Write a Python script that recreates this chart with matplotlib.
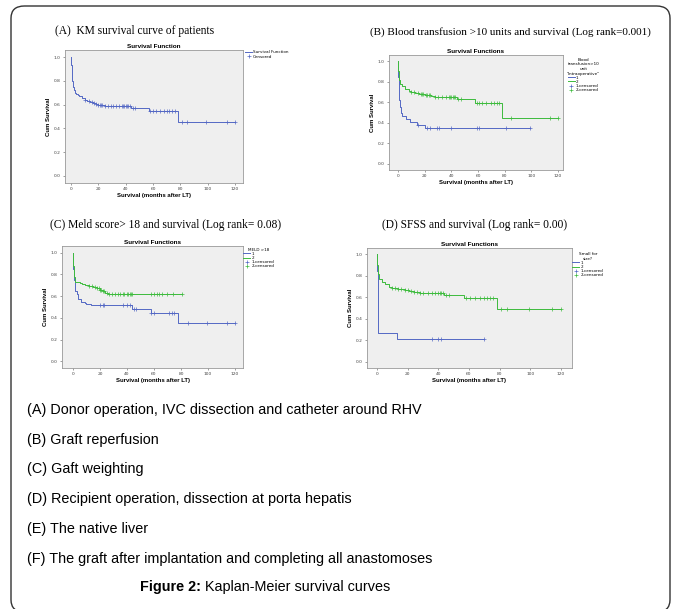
import numpy as np
import matplotlib
matplotlib.use("Agg")
import matplotlib.pyplot as plt
from matplotlib.patches import FancyBboxPatch

BLUE = "#5468c4"
GREEN = "#3dbb3d"

# (A) all patients
a_t = [0, 0.3, 0.6, 1, 1.5, 2, 3, 4, 5, 6, 8, 10, 12, 14, 16, 18, 20, 22, 25, 44, 57, 78]
a_s = [1.0, 0.93, 0.86, 0.80, 0.75, 0.72, 0.70, 0.69, 0.68, 0.67, 0.655, 0.64, 0.632,
       0.625, 0.615, 0.607, 0.60, 0.593, 0.588, 0.572, 0.546, 0.453]
a_end = 120
a_cens = [10, 13, 15, 17, 18, 20, 21, 22, 23, 25, 27, 29, 31, 33, 35, 37, 38, 39, 40, 41,
          42, 43, 45, 47, 58, 60, 62, 65, 68, 70, 72, 74, 76, 81, 85, 99, 114, 120]

# (B) blood transfusion >10 units
b1_t = [0, 0.3, 0.6, 1, 1.5, 2, 3, 6, 9, 14, 20]
b1_s = [1.0, 0.85, 0.72, 0.62, 0.55, 0.50, 0.47, 0.44, 0.41, 0.38, 0.352]
b1_end = 99
b1_cens = [15, 22, 24, 29, 31, 40, 59, 61, 81, 99]
b2_t = [0, 0.3, 0.7, 1.5, 3, 5, 8, 10, 13, 16, 20, 25, 28, 44, 58, 78]
b2_s = [1.0, 0.90, 0.82, 0.78, 0.76, 0.73, 0.71, 0.70, 0.69, 0.68, 0.67, 0.66, 0.652,
        0.63, 0.597, 0.447]
b2_end = 120
b2_cens = [10, 12, 15, 17, 18, 19, 21, 22, 23, 24, 28, 30, 33, 36, 38, 39, 40, 41, 42, 43,
           45, 47, 59, 61, 63, 66, 70, 72, 74, 76, 85, 114, 120]

# (C) MELD >18
c1_t = [0, 0.3, 0.7, 1.5, 3, 4, 6, 9, 10, 13, 44, 58, 78]
c1_s = [1.0, 0.85, 0.75, 0.65, 0.62, 0.575, 0.55, 0.54, 0.53, 0.515, 0.485, 0.445, 0.355]
c1_end = 120
c1_cens = [20, 22, 23, 37, 40, 42, 45, 47, 58, 60, 71, 73, 75, 85, 99, 114, 120]
c2_t = [0, 0.3, 0.7, 1.5, 5, 7, 9, 12, 15, 18, 20, 22, 24, 26]
c2_s = [1.0, 0.88, 0.78, 0.73, 0.72, 0.71, 0.70, 0.69, 0.68, 0.67, 0.66, 0.645, 0.63, 0.617]
c2_end = 81
c2_cens = [12, 14, 16, 18, 19, 20, 21, 22, 23, 25, 27, 29, 31, 33, 35, 37, 38, 40, 41, 42,
           43, 44, 58, 60, 62, 64, 66, 70, 74, 81]

# (D) small for size
d1_t = [0, 0.3, 0.6, 1, 13]
d1_s = [1.0, 0.85, 0.55, 0.267, 0.21]
d1_end = 70
d1_cens = [36, 40, 42, 70]
d2_t = [0, 0.3, 0.7, 1.5, 3, 5, 8, 10, 14, 18, 21, 24, 28, 44, 47, 57, 78]
d2_s = [1.0, 0.90, 0.82, 0.77, 0.74, 0.72, 0.70, 0.69, 0.68, 0.67, 0.66, 0.65, 0.638,
        0.625, 0.62, 0.59, 0.487]
d2_end = 120
d2_cens = [10, 12, 14, 16, 18, 20, 22, 24, 26, 28, 30, 33, 36, 38, 40, 41, 42, 43, 45, 47,
           58, 61, 64, 67, 70, 72, 74, 76, 81, 85, 99, 114, 120]

panel_titles = [
    "(A)  KM survival curve of patients",
    "(B) Blood transfusion >10 units and survival (Log rank=0.001)",
    "(C) Meld score> 18 and survival (Log rank= 0.08)",
    "(D) SFSS and survival (Log rank= 0.00)",
]
caption_lines = [
    "(A) Donor operation, IVC dissection and catheter around RHV",
    "(B) Graft reperfusion",
    "(C) Gaft weighting",
    "(D) Recipient operation, dissection at porta hepatis",
    "(E) The native liver",
    "(F) The graft after implantation and completing all anastomoses",
]

W, H = 675, 609
SANS = ["Liberation Sans", "DejaVu Sans"]
SERIF = ["Liberation Serif", "DejaVu Serif"]


def fig_rect(x0, y0, x1, y1):
    # pixel box (top-left origin) -> figure fraction
    return [x0 / W, 1 - y1 / H, (x1 - x0) / W, (y1 - y0) / H]


def km_curve(ax, t, s, end, cens, color):
    tt = list(t) + [end]
    ss = list(s) + [s[-1]]
    line, = ax.step(tt, ss, where="post", color=color, lw=0.7)
    idx = np.searchsorted(np.array(t), np.array(cens), side="right") - 1
    marks, = ax.plot(cens, np.array(s)[idx], ls="none", marker="+", ms=2.5, mew=0.5,
                     color=color)
    return line, marks


def style_axes(ax, title, xlim):
    ax.set_facecolor("#efefef")
    ax.set_xlim(*xlim)
    ax.set_ylim(-0.06, 1.06)
    ax.set_xticks(range(0, 121, 20))
    yt = np.arange(0, 1.01, 0.2)
    ax.set_yticks(yt)
    ax.set_yticklabels([f"{v:.1f}" for v in yt])
    ax.tick_params(labelsize=3.2, length=1.5, width=0.4, pad=1.5, colors="#555555",
                   labelcolor="#444444")
    for sp in ax.spines.values():
        sp.set_color("#999999")
        sp.set_linewidth(0.6)
    ax.set_title(title, fontsize=4.6, fontweight="bold", pad=1.5, family=SANS)
    ax.set_xlabel("Survival (months after LT)", fontsize=4.3, fontweight="bold",
                  labelpad=1.5, family=SANS)
    ax.set_ylabel("Cum Survival", fontsize=4.3, fontweight="bold", labelpad=2, family=SANS)


def add_legend(ax, handles, labels, title, anchor):
    leg = ax.legend(handles, labels, loc="upper left", bbox_to_anchor=anchor,
                    frameon=False, fontsize=3.0, title=title, title_fontsize=3.0,
                    handlelength=1.6, handletextpad=0.3, labelspacing=0.05,
                    borderpad=0.1, borderaxespad=0)
    if title:
        leg.get_title().set_multialignment("center")
    return leg


def two_groups(ax, g1, g2, title, xlim, leg_title, anchor):
    l1, m1 = km_curve(ax, *g1, BLUE)
    l2, m2 = km_curve(ax, *g2, GREEN)
    style_axes(ax, title, xlim)
    add_legend(ax, [l1, l2, m1, m2], ["1", "2", "1-censored", "2-censored"],
               leg_title, anchor)


def main():
    fig = plt.figure(figsize=(W / 100, H / 100), dpi=100)

    # outer frame
    frame = FancyBboxPatch((11 / W, 1 - 612 / H), 659 / W, 606 / H,
                           boxstyle="round,pad=0,rounding_size=0.02",
                           transform=fig.transFigure, fill=False,
                           edgecolor="#333333", lw=1.0, clip_on=False)
    fig.add_artist(frame)

    # panel A
    ax = fig.add_axes(fig_rect(65, 50, 243, 183))
    line, marks = km_curve(ax, a_t, a_s, a_end, a_cens, BLUE)
    style_axes(ax, "Survival Function", (-4.4, 125.8))
    add_legend(ax, [line, marks], ["Survival Function", "Censored"], None, (1.01, 1.0))

    # panel B
    ax = fig.add_axes(fig_rect(389, 55, 563, 170))
    two_groups(ax, (b1_t, b1_s, b1_end, b1_cens), (b2_t, b2_s, b2_end, b2_cens),
               "Survival Functions", (-6.7, 123.7),
               "Blood\ntransfusion>10\nunit\n\"intraoperative\"", (1.02, 0.98))

    # panel C
    ax = fig.add_axes(fig_rect(62, 246, 243, 368))
    two_groups(ax, (c1_t, c1_s, c1_end, c1_cens), (c2_t, c2_s, c2_end, c2_cens),
               "Survival Functions", (-8.1, 125.9), "MELD >18", (1.0, 0.99))

    # panel D
    ax = fig.add_axes(fig_rect(367, 248, 572, 368))
    two_groups(ax, (d1_t, d1_s, d1_end, d1_cens), (d2_t, d2_s, d2_end, d2_cens),
               "Survival Functions", (-6.5, 127.2), "Small for\nsize?", (1.0, 0.97))

    # panel headings
    fig.text(55 / W, 1 - 31 / H, panel_titles[0], fontsize=8.3, family=SERIF, va="center")
    fig.text(370 / W, 1 - 32 / H, panel_titles[1], fontsize=8.0, family=SERIF, va="center")
    fig.text(50 / W, 1 - 225 / H, panel_titles[2], fontsize=8.3, family=SERIF, va="center")
    fig.text(382 / W, 1 - 225 / H, panel_titles[3], fontsize=8.3, family=SERIF, va="center")

    # caption lines
    ys = [410, 440, 469, 499, 529, 559]
    for y, line in zip(ys, caption_lines):
        fig.text(27 / W, 1 - y / H, line, fontsize=10.4, family=SANS, va="center")

    cap = fig.text(140 / W, 1 - 587 / H, "Figure 2:", fontsize=10.4, family=SANS,
                   fontweight="bold", va="center")
    host = fig.add_axes([0, 0, 1, 1])
    host.axis("off")
    host.annotate(" Kaplan-Meier survival curves", xy=(1, 0.5), xycoords=cap,
                  va="center", ha="left", fontsize=10.4, family=SANS)

    fig.savefig("out.png", dpi=100)
    plt.close(fig)


if __name__ == "__main__":
    main()
